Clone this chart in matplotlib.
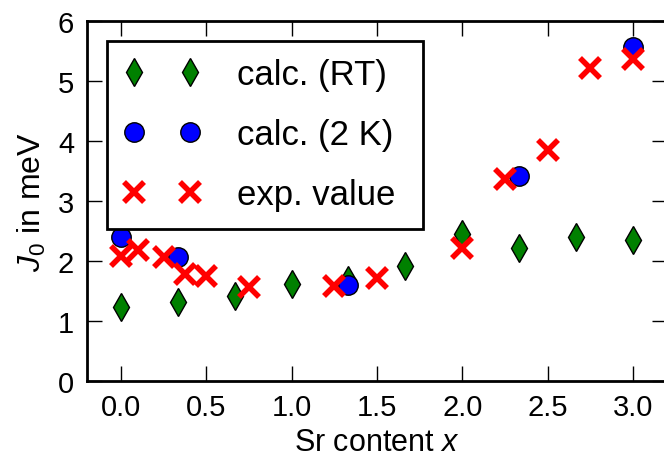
import numpy as np
import matplotlib
matplotlib.use('Agg')
import matplotlib.pyplot as plt

plt.rcParams['font.family'] = ['Liberation Sans', 'DejaVu Sans']
plt.rcParams['mathtext.fontset'] = 'custom'
plt.rcParams['mathtext.rm'] = 'Liberation Sans'
plt.rcParams['mathtext.it'] = 'Liberation Sans:italic'

# calculated at room temperature
x_rt = [0.0, 0.333, 0.667, 1.0, 1.333, 1.667, 2.0, 2.333, 2.667, 3.0]
j_rt = [1.24, 1.32, 1.42, 1.61, 1.68, 1.91, 2.44, 2.22, 2.39, 2.34]

# calculated at 2 K
x_2k = [0.0, 0.333, 1.333, 2.333, 3.0]
j_2k = [2.39, 2.07, 1.60, 3.42, 5.57]

# experimental values
x_exp = [0.0, 0.1, 0.25, 0.375, 0.5, 0.75, 1.25, 1.5, 2.0, 2.25, 2.5, 2.75, 3.0]
j_exp = [2.08, 2.18, 2.06, 1.78, 1.75, 1.56, 1.59, 1.71, 2.21, 3.36, 3.84, 5.22, 5.36]

xtick_vals = [0.0, 0.5, 1.0, 1.5, 2.0, 2.5, 3.0]

fig = plt.figure(figsize=(6.64, 4.6), dpi=100)
ax = fig.add_axes([0.1306, 0.1696, 0.874, 0.7832])

ax.plot(x_rt, j_rt, 'd', color='g', mec='k', mew=1, ms=14, label='calc. (RT)')
ax.plot(x_2k, j_2k, 'o', color='b', mec='k', mew=1, ms=14, label='calc. (2 K)')
ax.plot(x_exp, j_exp, 'x', color='r', mew=4, ms=14, label='exp. value')

ax.set_xlim(-0.2, 3.2)
ax.set_ylim(0, 6)
ax.set_xticks(xtick_vals)
ax.set_yticks(range(7))
ax.set_xticklabels(['%.1f' % t for t in xtick_vals])

ax.tick_params(direction='in', length=11, width=1, labelsize=21, pad=9,
               top=True, right=True)
for s in ax.spines.values():
    s.set_linewidth(2)

ax.set_xlabel('Sr content $x$', fontsize=22, labelpad=4)
ax.set_ylabel('$J_0$ in meV', fontsize=23, labelpad=7)

# legend box stretched to the width seen in the original
leg = ax.legend(loc='upper left', bbox_to_anchor=(0.0341, 0, 0.5454, 0.9445),
                mode='expand', borderaxespad=0, numpoints=2, fontsize=25,
                fancybox=False, framealpha=1, edgecolor='k', borderpad=0.5,
                handlelength=2.2, labelspacing=0.78, handletextpad=1.05)
leg.get_frame().set_linewidth(2)

fig.savefig('out.png', dpi=100)
